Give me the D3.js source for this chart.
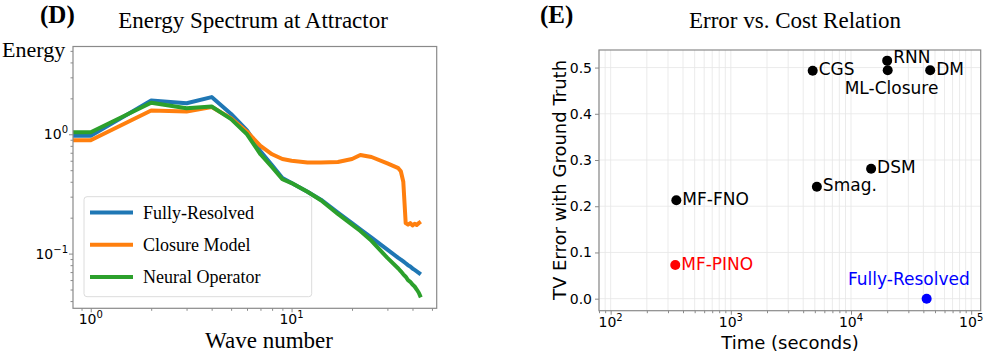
<!DOCTYPE html>
<meta charset="utf-8">
<style>
  body { margin: 0; background: #fff; }
  text { fill: #000; }
</style>
<svg id="mysvg" width="997" height="362"></svg>
<script src="https://cdn.jsdelivr.net/npm/d3@7/dist/d3.min.js"></script>
<script>

// ---- panel D data: energy spectrum ----
var waveNumber = [0,1,2,3,4,5,6,7,8,9,10,12,14,17,20,22,25,30,34,35,36,37,38,39,40,41,42,43,44];
var fullyResolved = [0.97,0.97,1.92,1.82,2.05,1.48,1.08,0.72,0.55,0.43,0.39,0.33,0.283,0.221,0.180,0.160,0.136,0.108,0.092,0.089,0.086,0.083,0.080,0.078,0.075,0.073,0.071,0.069,0.067];
var closureModel = [0.89,0.89,1.58,1.55,1.69,1.36,1.05,0.80,0.68,0.62,0.60,0.58,0.58,0.585,0.62,0.67,0.645,0.57,0.52,0.49,0.40,0.18,0.175,0.18,0.172,0.178,0.174,0.18,0.185];
var neuralOperator = [1.04,1.04,1.84,1.65,1.71,1.34,1.00,0.68,0.53,0.42,0.39,0.33,0.28,0.215,0.175,0.155,0.128,0.092,0.075,0.071,0.067,0.064,0.060,0.058,0.055,0.053,0.050,0.047,0.043];
var seriesNames = ["Fully-Resolved", "Closure Model", "Neural Operator"];
var energyXTicks = [1, 10];
var energyYTicks = [0.1, 1];

// ---- panel E data: error vs cost ----
var methods = ["CGS","RNN","ML-Closure","DM","DSM","Smag.","MF-FNO","MF-PINO","Fully-Resolved"];
var timeSeconds = [4800, 20000, 20200, 45600, 14700, 5200, 352, 345, 42600];
var tvError = [0.493, 0.515, 0.494, 0.494, 0.281, 0.242, 0.213, 0.073, 0.0];
var timeTicks = [100, 1000, 10000, 100000];
var errorTicks = [0, 0.1, 0.2, 0.3, 0.4, 0.5];

var svg = d3.select("#mysvg");
var serif = "'Liberation Serif', 'Times New Roman', serif";
var sans = "'DejaVu Sans', sans-serif";
var spineColor = "#8a8a8a";

function minorLog(lo, hi) {
	var out = [];
	for (var e = Math.floor(Math.log10(lo)); e <= Math.ceil(Math.log10(hi)); e++) {
		for (var m = 2; m <= 9; m++) {
			var v = m * Math.pow(10, e);
			if (v >= lo && v <= hi) out.push(v);
		}
	}
	return out;
}

function powLabel(g, x, y, exp, anchor) {
	var t = g.append("text")
		.attr("x", x).attr("y", y)
		.attr("text-anchor", anchor)
		.style("font-family", sans).style("font-size", "14px");
	t.append("tspan").text("10");
	t.append("tspan").attr("dy", -6).style("font-size", "10px").text(exp);
}

// ================= Panel D =================
var xE = d3.scaleLog().domain([0.816, 52.8]).range([73, 436.7]).clamp(true);
var yE = d3.scaleLog().domain([0.0348, 5.44]).range([308.3, 46.5]);

var gD = svg.append("g");

// ticks
gD.append("g").attr("transform", "translate(0,308.3)")
	.call(d3.axisBottom(xE).tickValues(energyXTicks).tickFormat("").tickSize(4).tickSizeOuter(0))
	.call(function(g){ g.select(".domain").remove(); g.selectAll("line").attr("stroke", spineColor); });
gD.append("g").attr("transform", "translate(0,308.3)")
	.call(d3.axisBottom(xE).tickValues(minorLog(0.816, 52.8)).tickFormat("").tickSize(2.5).tickSizeOuter(0))
	.call(function(g){ g.select(".domain").remove(); g.selectAll("line").attr("stroke", spineColor); });
gD.append("g").attr("transform", "translate(73,0)")
	.call(d3.axisLeft(yE).tickValues(energyYTicks).tickFormat("").tickSize(4).tickSizeOuter(0))
	.call(function(g){ g.select(".domain").remove(); g.selectAll("line").attr("stroke", spineColor); });
gD.append("g").attr("transform", "translate(73,0)")
	.call(d3.axisLeft(yE).tickValues(minorLog(0.0348, 5.44)).tickFormat("").tickSize(2.5).tickSizeOuter(0))
	.call(function(g){ g.select(".domain").remove(); g.selectAll("line").attr("stroke", spineColor); });

energyXTicks.forEach(function(v){ powLabel(gD, xE(v), 324, Math.round(Math.log10(v)), "middle"); });
energyYTicks.forEach(function(v){ powLabel(gD, 68, yE(v) + 5, Math.round(Math.log10(v)) === 0 ? "0" : "\u22121", "end"); });

// lines
gD.append("clipPath").attr("id", "clipD").append("rect")
	.attr("x", 73).attr("y", 46.5).attr("width", 436.7 - 73).attr("height", 308.3 - 46.5);
var colors = ["#1f77b4", "#ff7f0e", "#2ca02c"];
var allSeries = [fullyResolved, closureModel, neuralOperator];
var line = d3.line()
	.x(function(d, i){ return xE(waveNumber[i]); })
	.y(function(d){ return yE(d); });
allSeries.forEach(function(s, i){
	gD.append("path").datum(s)
		.attr("d", line)
		.attr("fill", "none")
		.attr("stroke", colors[i])
		.attr("stroke-width", 4)
		.attr("stroke-linejoin", "round")
		.attr("clip-path", "url(#clipD)");
});

gD.append("rect").attr("x", 73).attr("y", 46.5).attr("width", 436.7 - 73).attr("height", 308.3 - 46.5)
	.attr("fill", "none").attr("stroke", spineColor).attr("stroke-width", 1.2);

// legend
var leg = gD.append("g");
leg.append("rect").attr("x", 84).attr("y", 196.7).attr("width", 227.7).attr("height", 100)
	.attr("rx", 3).attr("fill", "#fff").attr("fill-opacity", 0.8).attr("stroke", "#dcdcdc");
seriesNames.forEach(function(n, i){
	var yy = 212.5 + i * 32.3;
	leg.append("line").attr("x1", 90).attr("x2", 133).attr("y1", yy).attr("y2", yy)
		.attr("stroke", colors[i]).attr("stroke-width", 4);
	leg.append("text").attr("x", 143).attr("y", yy + 6).text(n)
		.style("font-family", serif).style("font-size", "18px");
});

gD.append("text").attr("x", 253).attr("y", 28).attr("text-anchor", "middle")
	.style("font-family", serif).style("font-size", "23px").text("Energy Spectrum at Attractor");
gD.append("text").attr("x", 40).attr("y", 23)
	.style("font-family", serif).style("font-size", "25px").style("font-weight", "bold").text("(D)");
gD.append("text").attr("x", 2).attr("y", 57)
	.style("font-family", serif).style("font-size", "22px").text("Energy");
gD.append("text").attr("x", 269).attr("y", 348).attr("text-anchor", "middle")
	.style("font-family", serif).style("font-size", "23px").text("Wave number");

// ================= Panel E =================
var L = 599, R = 980.7, T = 50, B = 310.7;
var xT = d3.scaleLog().domain([80, 120000]).range([L, R]);
var yT = d3.scaleLinear().domain([-0.026, 0.538]).range([B, T]);

var gE = svg.append("g");

// grid
var minorT = minorLog(80, 120000);
gE.selectAll(".vgrid").data(timeTicks.concat(minorT).filter(function(v){ return v >= 80 && v <= 120000; }))
	.enter().append("line")
	.attr("x1", function(d){ return xT(d); }).attr("x2", function(d){ return xT(d); })
	.attr("y1", T).attr("y2", B)
	.attr("stroke", "#e6e6e6").attr("stroke-width", 0.8);
gE.selectAll(".hgrid").data(errorTicks).enter().append("line")
	.attr("x1", L).attr("x2", R)
	.attr("y1", function(d){ return yT(d); }).attr("y2", function(d){ return yT(d); })
	.attr("stroke", "#e6e6e6").attr("stroke-width", 0.8);

gE.append("g").attr("transform", "translate(0," + B + ")")
	.call(d3.axisBottom(xT).tickValues(timeTicks).tickFormat("").tickSize(4).tickSizeOuter(0))
	.call(function(g){ g.select(".domain").remove(); g.selectAll("line").attr("stroke", spineColor); });
gE.append("g").attr("transform", "translate(0," + B + ")")
	.call(d3.axisBottom(xT).tickValues(minorT).tickFormat("").tickSize(2.5).tickSizeOuter(0))
	.call(function(g){ g.select(".domain").remove(); g.selectAll("line").attr("stroke", spineColor); });
gE.append("g").attr("transform", "translate(" + L + ",0)")
	.call(d3.axisLeft(yT).tickValues(errorTicks).tickFormat(d3.format(".1f")).tickSize(4).tickSizeOuter(0))
	.call(function(g){
		g.select(".domain").remove();
		g.selectAll("line").attr("stroke", spineColor);
		g.selectAll("text").style("font-family", sans).style("font-size", "14px").attr("fill", "#000");
	});
timeTicks.forEach(function(v){ powLabel(gE, xT(v), 327, Math.round(Math.log10(v)), "middle"); });

gE.append("rect").attr("x", L).attr("y", T).attr("width", R - L).attr("height", B - T)
	.attr("fill", "none").attr("stroke", spineColor).attr("stroke-width", 1.2);

// points + labels
var pointColor = { "MF-PINO": "#ff0000", "Fully-Resolved": "#0000ff" };
var labelOffset = {
	"RNN": [6, -3.5],
	"ML-Closure": [-43, 17.4],
	"Fully-Resolved": [-78.7, -19.4]
};
var pts = methods.map(function(m, i){ return { name: m, t: timeSeconds[i], e: tvError[i] }; });
gE.selectAll("circle").data(pts).enter().append("circle")
	.attr("cx", function(d){ return xT(d.t); })
	.attr("cy", function(d){ return yT(d.e); })
	.attr("r", 5)
	.attr("fill", function(d){ return pointColor[d.name] || "#000"; });
gE.selectAll(".lbl").data(pts).enter().append("text")
	.attr("x", function(d){ return xT(d.t) + (labelOffset[d.name] || [6, -1.5])[0]; })
	.attr("y", function(d){ return yT(d.e) + (labelOffset[d.name] || [6, -1.5])[1]; })
	.attr("dy", "0.36em")
	.style("font-family", sans).style("font-size", "17px")
	.style("fill", function(d){ return pointColor[d.name] || "#000"; })
	.text(function(d){ return d.name; });

gE.append("text").attr("x", 795).attr("y", 28).attr("text-anchor", "middle")
	.style("font-family", serif).style("font-size", "23px").text("Error vs. Cost Relation");
gE.append("text").attr("x", 540).attr("y", 23)
	.style("font-family", serif).style("font-size", "25px").style("font-weight", "bold").text("(E)");
gE.append("text").attr("x", 790).attr("y", 349).attr("text-anchor", "middle")
	.style("font-family", sans).style("font-size", "18px").text("Time (seconds)");
gE.append("text").attr("transform", "translate(566,180) rotate(-90)").attr("text-anchor", "middle")
	.style("font-family", sans).style("font-size", "18px").text("TV Error with Ground Truth");

</script>
